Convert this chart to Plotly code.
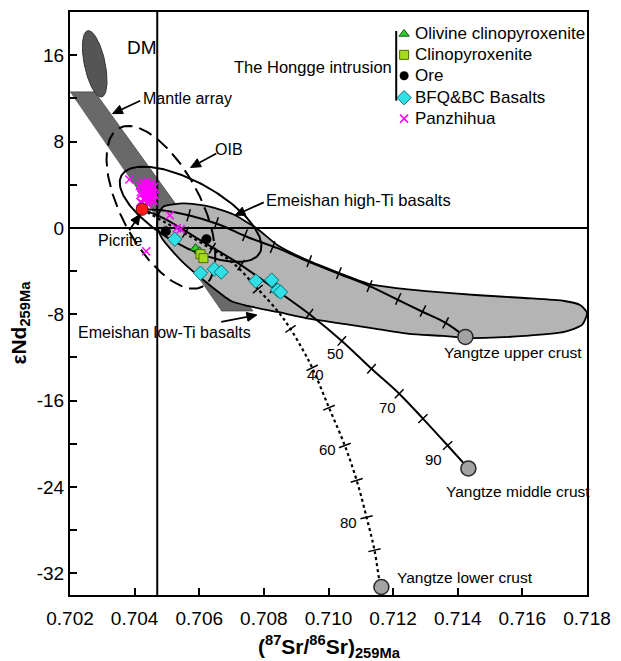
import numpy as np
import plotly.graph_objects as go

# ---------------- data (87Sr/86Sr)259Ma , eNd259Ma ----------------
# Mixing curves from picrite to Yangtze crust end-members
upper_sr = [0.704233, 0.704845, 0.705671, 0.706589, 0.707507, 0.708425, 0.709342,
            0.710260, 0.711270, 0.712096, 0.712922, 0.713625, 0.714237]
upper_nd = [1.723, 1.631, 1.169, 0.338, -0.862, -1.877, -3.077,
            -4.185, -5.385, -6.585, -7.785, -8.800, -10.092]
upper_tick_sr = [0.705671, 0.706528, 0.707415, 0.708272, 0.709404, 0.710322, 0.711270, 0.712157, 0.712922, 0.713625]
upper_tick_nd = [1.169, 0.431, -0.677, -1.785, -3.077, -4.185, -5.385, -6.585, -7.692, -8.800]

middle_sr = [0.704233, 0.704906, 0.705977, 0.707201, 0.708425, 0.709403, 0.710413,
             0.711331, 0.712188, 0.712922, 0.713687, 0.714329]
middle_nd = [1.723, 0.892, -1.046, -3.262, -5.846, -7.969, -10.462,
             -13.046, -15.354, -17.662, -20.154, -22.277]
middle_tick_sr = [0.705579, 0.706405, 0.707293, 0.708302, 0.709403, 0.710413, 0.711331, 0.712188, 0.712922, 0.713687]
middle_tick_nd = [-0.400, -1.877, -3.446, -5.569, -7.969, -10.462, -13.046, -15.354, -17.662, -20.154]

lower_sr = [0.704233, 0.705212, 0.706130, 0.707048, 0.707813, 0.708425, 0.708822, 0.709189,
            0.709495, 0.710015, 0.710505, 0.710872, 0.711178, 0.711423, 0.711576, 0.711637]
lower_nd = [1.723, 0.062, -1.508, -3.262, -5.662, -7.692, -9.354, -11.200,
            -12.954, -16.646, -20.154, -23.385, -26.800, -29.846, -32.615, -33.262]
lower_tick_sr = [0.707813, 0.708822, 0.709495, 0.710015, 0.710505, 0.710872, 0.711178, 0.711423]
lower_tick_nd = [-5.662, -9.354, -12.954, -16.646, -20.154, -23.385, -26.800, -29.846]

# End-members
crust_names = ["Yangtze upper crust", "Yangtze middle crust", "Yangtze lower crust"]
crust_sr = [0.714237, 0.714329, 0.711637]
crust_nd = [-10.092, -22.277, -33.262]

picrite_sr = [0.704233]
picrite_nd = [1.723]

# Hongge intrusion samples
olivine_sr = [0.705885, 0.706008]
olivine_nd = [-1.877, -2.154]
cpx_sr = [0.706038, 0.706130]
cpx_nd = [-2.431, -2.800]
ore_sr = [0.704967, 0.706222]
ore_nd = [-0.308, -1.046]
basalt_sr = [0.705243, 0.706038, 0.706467, 0.706681, 0.707751, 0.708241, 0.708425, 0.708516]
basalt_nd = [-1.046, -4.185, -3.815, -4.092, -4.923, -4.831, -5.754, -5.938]

# Panzhihua
pzh_sr = [0.70416, 0.70420, 0.70425, 0.70430, 0.70435, 0.70440, 0.70445, 0.70450, 0.70455, 0.70460,
          0.70418, 0.70428, 0.70438, 0.70448, 0.70458, 0.70422, 0.70432, 0.70442, 0.70452, 0.70462,
          0.70424, 0.70434, 0.70444, 0.70454, 0.70419, 0.70429, 0.70439, 0.70449, 0.70459, 0.70436,
          0.70446, 0.70427, 0.70441, 0.70451, 0.70433,
          0.703836, 0.704356, 0.705090, 0.705304, 0.705426]
pzh_nd = [3.9, 3.1, 4.2, 2.6, 3.6, 2.9, 4.0, 3.3, 2.7, 3.8,
          2.4, 3.5, 4.3, 2.5, 3.2, 3.7, 2.8, 3.4, 4.1, 3.0,
          2.3, 4.0, 2.6, 3.6, 3.3, 2.7, 3.0, 3.9, 2.5, 3.7,
          3.1, 4.1, 2.2, 2.9, 3.4,
          4.492, -2.154, 1.169, -0.031, -0.123]

# Reference fields
mantle_sr = [0.702000, 0.702765, 0.707660, 0.706681]
mantle_nd = [12.6, 12.6, -7.69, -7.69]

lowti_sr = [0.704753, 0.704906, 0.705518, 0.706283, 0.707048, 0.707813, 0.708425, 0.709342, 0.710260,
            0.711270, 0.712096, 0.713013, 0.714543, 0.716073, 0.717297, 0.717786, 0.718000,
            0.717847, 0.717297, 0.716073, 0.714849, 0.714237, 0.713534, 0.712493, 0.711484,
            0.710474, 0.709434, 0.708425, 0.707507, 0.706987, 0.706283, 0.705457, 0.704845, 0.704692]
lowti_nd = [1.354, 2.000, 2.277, 2.000, 1.262, -0.123, -1.600, -2.985, -4.092,
            -5.200, -5.569, -5.846, -6.215, -6.492, -6.769, -7.138, -7.877,
            -8.985, -9.631, -10.000, -10.185, -10.185, -10.000, -9.815, -9.354,
            -8.892, -8.431, -7.785, -7.231, -6.769, -5.200, -3.077, -0.954, 0.246]

# Ellipse fields: centre (Sr, eNd), semi-axes (px), tilt (deg, screen)
dm_field = dict(sr=0.702765, nd=15.20, a=34, b=10.5, ang=78)
oib_field = dict(sr=0.704815, nd=1.908, a=90, b=40, ang=62)
hiti_field = dict(sr=0.705732, nd=1.262, a=80, b=32, ang=29)

bulk_earth_sr = 0.7047
chur_nd = 0.0

x_ticks = [0.702, 0.704, 0.706, 0.708, 0.710, 0.712, 0.714, 0.716, 0.718]
y_ticks = [-32, -24, -16, -8, 0, 8, 16]

# ---------------- layout geometry ----------------
W, H = 621, 661
L, R, T, B = 70, 28, 10, 66
XR = [0.702, 0.718]
YR = [-34, 20]
kx = (W - L - R) / (XR[1] - XR[0])
ky = (H - T - B) / (YR[1] - YR[0])
FONT = "Arial, Liberation Sans, sans-serif"


def ellipse(f, n=200):
    t = np.linspace(0, 2 * np.pi, n)
    th = np.radians(f["ang"])
    dx = f["a"] * np.cos(th) * np.cos(t) - f["b"] * np.sin(th) * np.sin(t)
    dy = f["a"] * np.sin(th) * np.cos(t) + f["b"] * np.cos(th) * np.sin(t)
    return f["sr"] + dx / kx, f["nd"] - dy / ky


def tick_angles(sr, nd):
    px = (np.array(sr) - XR[0]) * kx
    py = -np.array(nd) * ky
    ang = []
    for i in range(len(px)):
        i0, i1 = max(i - 1, 0), min(i + 1, len(px) - 1)
        ang.append(np.degrees(np.arctan2(py[i1] - py[i0], px[i1] - px[i0])))
    return ang


def px2paper(px, py):
    return (px - L) / (W - L - R), (H - B - py) / (H - T - B)


fig = go.Figure()

# fields
fig.add_trace(go.Scatter(x=mantle_sr, y=mantle_nd, fill="toself", mode="lines",
                         fillcolor="#696969", line=dict(color="#444", width=0.8), hoverinfo="skip"))
ex, ey = ellipse(dm_field)
fig.add_trace(go.Scatter(x=ex, y=ey, fill="toself", mode="lines",
                         fillcolor="#555555", line=dict(color="#333", width=1), hoverinfo="skip"))
fig.add_trace(go.Scatter(x=lowti_sr + lowti_sr[:1], y=lowti_nd + lowti_nd[:1], fill="toself", mode="lines",
                         fillcolor="#b4b4b4", line=dict(color="black", width=1.8, shape="spline", smoothing=0.6),
                         hoverinfo="skip"))
ex, ey = ellipse(oib_field)
fig.add_trace(go.Scatter(x=ex, y=ey, mode="lines", line=dict(color="black", width=2, dash="14px,7px"),
                         hoverinfo="skip"))
ex, ey = ellipse(hiti_field)
fig.add_trace(go.Scatter(x=ex, y=ey, mode="lines", line=dict(color="black", width=2), hoverinfo="skip"))

# reference lines
fig.add_trace(go.Scatter(x=[bulk_earth_sr, bulk_earth_sr], y=YR, mode="lines",
                         line=dict(color="black", width=2), hoverinfo="skip"))
fig.add_trace(go.Scatter(x=XR, y=[chur_nd, chur_nd], mode="lines",
                         line=dict(color="black", width=2), hoverinfo="skip"))

# mixing curves
fig.add_trace(go.Scatter(x=upper_sr, y=upper_nd, mode="lines", line=dict(color="black", width=2, shape="spline")))
fig.add_trace(go.Scatter(x=middle_sr, y=middle_nd, mode="lines", line=dict(color="black", width=2, shape="spline")))
fig.add_trace(go.Scatter(x=lower_sr, y=lower_nd, mode="lines", line=dict(color="black", width=2.2, dash="dot", shape="spline")))
for tsr, tnd in [(upper_tick_sr, upper_tick_nd), (middle_tick_sr, middle_tick_nd), (lower_tick_sr, lower_tick_nd)]:
    fig.add_trace(go.Scatter(x=tsr, y=tnd, mode="markers",
                             marker=dict(symbol="line-ns", size=9, angle=tick_angles(tsr, tnd),
                                         line=dict(color="black", width=1.5))))

# end-members
fig.add_trace(go.Scatter(x=crust_sr, y=crust_nd, mode="markers",
                         marker=dict(size=15, color="#a3a3a3", line=dict(color="#2a2a2a", width=1.5))))

# samples
fig.add_trace(go.Scatter(x=pzh_sr, y=pzh_nd, mode="markers",
                         marker=dict(symbol="x-thin", size=8, line=dict(color="#ff00ff", width=1.5))))
fig.add_trace(go.Scatter(x=basalt_sr, y=basalt_nd, mode="markers",
                         marker=dict(symbol="diamond", size=11, color="#2fe0e6", line=dict(color="#0f6f74", width=1))))
fig.add_trace(go.Scatter(x=ore_sr, y=ore_nd, mode="markers",
                         marker=dict(symbol="circle", size=10, color="black")))
fig.add_trace(go.Scatter(x=olivine_sr, y=olivine_nd, mode="markers",
                         marker=dict(symbol="triangle-up", size=9, color="#2ecc2e", line=dict(color="#145214", width=1))))
fig.add_trace(go.Scatter(x=cpx_sr, y=cpx_nd, mode="markers",
                         marker=dict(symbol="square", size=9, color="#a6dc1e", line=dict(color="#4d6b00", width=1))))
fig.add_trace(go.Scatter(x=picrite_sr, y=picrite_nd, mode="markers",
                         marker=dict(symbol="circle", size=12, color="#ff1a1a", line=dict(color="#551111", width=1))))

# ---------------- legend (drawn on a pixel overlay axis) ----------------
leg_names = ["Olivine clinopyroxenite", "Clinopyroxenite", "Ore", "BFQ&BC Basalts", "Panzhihua"]
leg_y = [32, 53, 74, 96, 117]
leg_x = 408
leg_styles = [
    dict(symbol="triangle-up", size=9, color="#2ecc2e", line=dict(color="#145214", width=1)),
    dict(symbol="square", size=9, color="#a6dc1e", line=dict(color="#4d6b00", width=1)),
    dict(symbol="circle", size=9, color="black"),
    dict(symbol="diamond", size=11, color="#2fe0e6", line=dict(color="#0f6f74", width=1)),
    dict(symbol="x-thin", size=8, line=dict(color="#ff00ff", width=1.5)),
]
for yy, st in zip(leg_y, leg_styles):
    fig.add_trace(go.Scatter(x=[leg_x], y=[yy], xaxis="x2", yaxis="y2", mode="markers", marker=st,
                             hoverinfo="skip"))

ann = []
for name, yy in zip(leg_names, leg_y):
    ann.append(dict(text=name, x=417, y=yy, xref="x2", yref="y2", xanchor="left", yanchor="middle",
                    showarrow=False, font=dict(size=17, family=FONT, color="black")))

labels = [
    ("The Hongge intrusion", 316, 65, 16.5),
    ("DM", 143, 46, 19),
    ("Mantle array", 189, 97, 16),
    ("OIB", 231, 148, 16),
    ("Emeishan high-Ti basalts", 362, 199, 16.5),
    ("Picrite", 121, 239, 16),
    ("Emeishan low-Ti basalts", 166, 332, 16),
    ("Yangtze upper crust", 518, 352, 15.5),
    ("Yangtze middle crust", 523, 491, 15.5),
    ("Yangtze lower crust", 470, 577, 15.5),
    ("50", 339, 353, 15), ("70", 391, 407, 15), ("90", 438, 459, 15),
    ("40", 318, 374, 15), ("60", 330, 449, 15), ("80", 352, 522, 15),
]
for txt, xx, yy, fs in labels:
    ann.append(dict(text=txt, x=xx, y=yy, xref="x2", yref="y2", showarrow=False,
                    xanchor="center", yanchor="middle", font=dict(size=fs, family=FONT, color="black")))

# axis titles (paper coordinates)
xt = px2paper(333, 647)
ann.append(dict(text="<b>(<sup>87</sup>Sr/<sup>86</sup>Sr)<sub>259Ma</sub></b>", x=xt[0], y=xt[1],
                xref="paper", yref="paper", showarrow=False, xanchor="center", yanchor="middle",
                font=dict(size=21, family=FONT, color="black")))
yt = px2paper(19, 322)
ann.append(dict(text="<b>εNd<sub>259Ma</sub></b>", x=yt[0], y=yt[1], xref="paper", yref="paper",
                textangle=-90, showarrow=False, xanchor="center", yanchor="middle",
                font=dict(size=21, family=FONT, color="black")))

# legend bracket + label arrows (pixel overlay)
shapes = [dict(type="line", xref="x2", yref="y2", x0=400, x1=400, y0=29, y1=99,
               line=dict(color="black", width=2))]
arrows = [((141, 99), (113, 112)), ((218, 152), (192, 166)), ((266, 201), (237, 214)),
          ((130, 229), (141, 213)), ((223, 321), (259, 314))]
HEAD_LEN, HEAD_HALF = 10, 4.5
for (tx, ty), (hx, hy) in arrows:
    d = np.array([hx - tx, hy - ty], dtype=float)
    d /= np.hypot(*d)
    p = np.array([-d[1], d[0]])
    base = np.array([hx, hy]) - HEAD_LEN * d
    b1 = base + HEAD_HALF * p
    b2 = base - HEAD_HALF * p
    shapes.append(dict(type="line", xref="x2", yref="y2", x0=tx, y0=ty, x1=base[0], y1=base[1],
                       line=dict(color="black", width=1.8)))
    shapes.append(dict(type="path", xref="x2", yref="y2",
                       path=f"M {hx},{hy} L {b1[0]:.2f},{b1[1]:.2f} L {b2[0]:.2f},{b2[1]:.2f} Z",
                       fillcolor="black", line=dict(color="black", width=1)))

fig.update_layout(
    width=W, height=H, margin=dict(l=L, r=R, t=T, b=B),
    paper_bgcolor="white", plot_bgcolor="white", showlegend=False,
    annotations=ann, shapes=shapes,
    xaxis=dict(range=XR, tickvals=x_ticks, ticktext=[f"{v:.3f}" for v in x_ticks],
               ticks="inside", ticklen=7, tickwidth=1.5, tickcolor="black", ticklabelstandoff=5,
               showline=True, linewidth=2, linecolor="black", mirror=True, showgrid=False, zeroline=False,
               tickfont=dict(size=19, family=FONT, color="black")),
    yaxis=dict(range=YR, tickvals=y_ticks, ticktext=[str(v) for v in y_ticks],
               ticks="inside", ticklen=7, tickwidth=1.5, tickcolor="black",
               minor=dict(tickvals=[-28, -20, -12, -4, 4, 12], ticks="inside", ticklen=7,
                          tickwidth=1.5, tickcolor="black", showgrid=False),
               showline=True, linewidth=2, linecolor="black", mirror=True, showgrid=False, zeroline=False,
               tickfont=dict(size=19, family=FONT, color="black")),
    xaxis2=dict(range=[L, W - R], overlaying="x", visible=False, fixedrange=True),
    yaxis2=dict(range=[H - B, T], overlaying="y", visible=False, fixedrange=True),
)

fig.write_html("out.html")
